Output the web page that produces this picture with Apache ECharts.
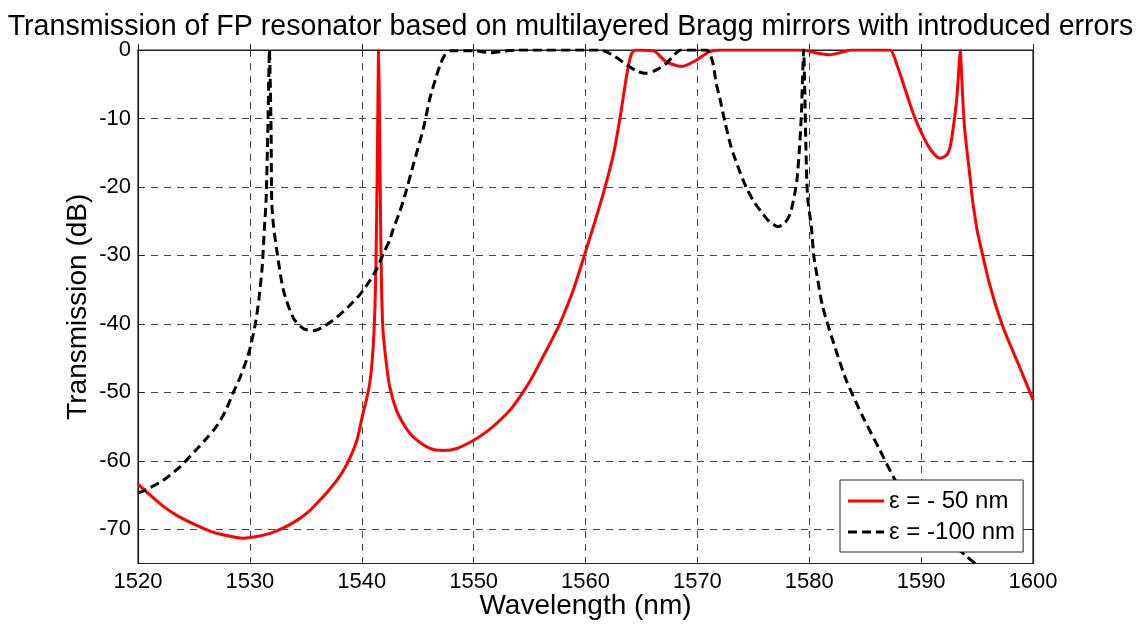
<!DOCTYPE html>
<html>
<head>
<meta charset="utf-8">
<title>FP resonator transmission</title>
<script src="https://cdn.jsdelivr.net/npm/echarts@6/dist/echarts.min.js"></script>
<style>
  html, body { margin: 0; padding: 0; background: #fff; }
  #chart { width: 1141px; height: 624px; }
</style>
</head>
<body>
<div id="chart"></div>
<script>
// Transmission spectra (dB) of a Fabry-Perot resonator built from Bragg mirrors
const titleText = 'Transmission of FP resonator based on multilayered Bragg mirrors with introduced errors';
const xName = 'Wavelength (nm)';
const yName = 'Transmission (dB)';
const seriesNames = ['\u03b5 = - 50 nm', '\u03b5 = -100 nm'];
const yTicks = [-70, -60, -50, -40, -30, -20, -10, 0];

// epsilon = -50 nm
const wl50 = [1520.0, 1521.0, 1522.3, 1523.5, 1525.2, 1526.5, 1527.6, 1529.4, 1530.5, 1531.8,
  1533.0, 1534.2, 1535.2, 1536.0, 1537.0, 1537.8, 1538.5, 1539.0, 1539.6, 1540.1,
  1540.4, 1540.7, 1540.9, 1541.1, 1541.25, 1541.38, 1541.46, 1541.5, 1541.55, 1541.65,
  1541.75, 1541.9, 1542.2, 1542.5, 1543.1, 1543.8, 1544.6, 1546.1, 1547.3, 1548.5,
  1550.0, 1551.2, 1552.4, 1553.4, 1554.4, 1555.3, 1556.2, 1557.0, 1557.7, 1558.9,
  1559.9, 1560.7, 1561.6, 1562.5, 1563.1, 1563.7, 1564.1, 1564.5, 1566.0, 1566.3,
  1567.2, 1568.6, 1569.9, 1571.0, 1572.0, 1579.5, 1580.5, 1581.8, 1583.0, 1583.8,
  1587.2, 1587.8, 1588.4, 1589.3, 1590.2, 1591.0, 1591.7, 1592.3, 1592.6, 1592.9,
  1593.2, 1593.4, 1593.5, 1593.6, 1593.75, 1593.9, 1594.4, 1594.6, 1595.0, 1595.2,
  1596.1, 1597.3, 1598.8, 1600.0];
const db50 = [-63.4, -64.9, -66.7, -68.0, -69.4, -70.3, -70.8, -71.3, -71.1, -70.6,
  -69.8, -68.7, -67.5, -66.2, -64.4, -62.8, -61.0, -59.4, -56.8, -53.1,
  -51.2, -48.8, -46.0, -41.0, -33.0, -18.0, -5.0, 0.0, -5.0, -20.0,
  -33.0, -41.0, -45.8, -49.2, -52.6, -54.8, -56.5, -58.2, -58.5, -58.2,
  -57.0, -55.7, -54.0, -52.3, -50.0, -47.6, -44.8, -42.3, -40.0, -35.1,
  -30.0, -25.8, -20.9, -15.2, -9.8, -3.5, -0.6, 0.0, -0.1, -0.3,
  -1.7, -2.4, -1.5, -0.3, 0.0, 0.0, -0.4, -0.7, -0.3, 0.0,
  0.0, -2.0, -4.9, -9.3, -12.7, -14.9, -15.8, -15.3, -14.1, -11.0,
  -6.8, -2.0, 0.0, -3.0, -8.0, -11.7, -19.0, -22.0, -26.3, -27.8,
  -34.1, -40.4, -46.3, -51.1];

// epsilon = -100 nm
const wl100 = [1520.0, 1521.0, 1522.3, 1523.8, 1525.2, 1526.2, 1527.0, 1527.8, 1528.5, 1529.1,
  1529.7, 1530.1, 1530.5, 1530.8, 1531.1, 1531.3, 1531.45, 1531.6, 1531.7, 1531.75,
  1531.8, 1531.9, 1531.95, 1532.1, 1532.4, 1533.0, 1533.9, 1534.8, 1535.7, 1536.7,
  1537.8, 1538.8, 1539.8, 1540.6, 1541.3, 1542.0, 1542.5, 1542.8, 1543.4, 1543.9,
  1544.6, 1545.5, 1546.1, 1546.6, 1547.0, 1547.4, 1548.0, 1550.0, 1551.5, 1552.5,
  1554.0, 1561.3, 1562.5, 1563.7, 1564.5, 1565.3, 1566.2, 1567.2, 1568.0, 1568.5,
  1570.8, 1571.1, 1571.4, 1571.7, 1572.0, 1572.3, 1572.9, 1573.2, 1573.8, 1574.4,
  1575.0, 1575.6, 1576.4, 1577.2, 1577.8, 1578.3, 1578.7, 1578.9, 1579.1, 1579.3,
  1579.4, 1579.5, 1579.6, 1579.7, 1579.85, 1580.2, 1580.4, 1580.7, 1581.2, 1582.1,
  1583.3, 1584.8, 1586.3, 1587.5, 1588.7, 1590.2, 1592.3, 1594.1, 1595.0, 1596.5,
  1600.0];
const db100 = [-64.7, -64.0, -62.8, -60.8, -58.4, -56.6, -55.0, -52.8, -50.1, -47.9,
  -45.3, -43.0, -39.9, -36.5, -31.7, -26.0, -21.9, -12.0, -3.0, 0.0,
  -3.0, -12.0, -21.9, -25.5, -29.2, -35.1, -39.2, -40.7, -41.0, -40.3,
  -39.0, -37.5, -35.8, -34.0, -32.1, -29.5, -27.8, -26.2, -23.6, -21.0,
  -16.8, -11.5, -7.0, -4.2, -2.2, -0.8, -0.1, -0.1, -0.4, -0.2,
  0.0, 0.0, -0.8, -2.2, -3.0, -3.4, -3.0, -2.0, -0.6, 0.0,
  0.0, -0.5, -2.0, -5.0, -7.0, -9.3, -13.5, -15.1, -17.8, -20.2,
  -22.0, -23.4, -25.0, -25.8, -25.3, -23.9, -21.0, -19.0, -15.0, -9.3,
  -4.0, 0.0, -6.0, -14.0, -21.4, -26.0, -30.0, -33.0, -37.5, -42.4,
  -48.2, -53.6, -58.4, -62.3, -65.7, -68.6, -71.5, -74.0, -75.2, -77.0,
  -80.0];

const toPairs = (xs, ys) => xs.map((x, i) => [x, ys[i]]);

const FONT = "'Liberation Sans', Arial, Helvetica, sans-serif";
const gridLine = { show: true, lineStyle: { color: '#444', width: 1, type: [7, 6] } };
const axisLine = { show: true, lineStyle: { color: '#222', width: 1.2 } };
const tick = { show: true, inside: true, length: 6, lineStyle: { color: '#222' } };
const yTick = Object.assign({}, tick, { customValues: yTicks });

// legend keys: a solid bar and a dashed bar
const solidKey = 'path://M0,0H36V3H0Z';
const dashedKey = 'path://M0,0H9V3H0Z M14,0H23V3H14Z M28,0H36V3H28Z';

const chart = echarts.init(document.getElementById('chart'), null, { renderer: 'canvas' });

chart.setOption({
  animation: false,
  backgroundColor: '#fff',
  textStyle: { fontFamily: FONT },
  title: {
    text: titleText,
    left: 'center',
    top: 8,
    textStyle: { fontFamily: FONT, fontSize: 28.6, fontWeight: 'normal', color: '#000' }
  },
  grid: {
    left: 138, right: 108, top: 50, bottom: 60.5,
    containLabel: false,
    outerBoundsMode: 'none',
    show: true, borderColor: '#222', borderWidth: 1.2, backgroundColor: '#fff'
  },
  legend: {
    orient: 'vertical',
    left: 840, top: 480,
    z: 20,
    padding: [9, 8, 8, 8],
    itemGap: 7,
    itemWidth: 36, itemHeight: 3,
    backgroundColor: '#fff',
    borderColor: '#222', borderWidth: 1,
    textStyle: { fontFamily: FONT, fontSize: 24, color: '#000' },
    data: [
      { name: seriesNames[0], icon: solidKey },
      { name: seriesNames[1], icon: dashedKey }
    ]
  },
  xAxis: [{
    type: 'value', min: 1520, max: 1600, interval: 10,
    name: xName, nameLocation: 'middle', nameGap: 29, nameMoveOverlap: false,
    nameTextStyle: { fontFamily: FONT, fontSize: 28, color: '#000' },
    axisLine: axisLine, axisTick: tick, splitLine: gridLine,
    axisLabel: { margin: 7, fontFamily: FONT, fontSize: 22, color: '#000', formatter: v => String(v) }
  }, {
    type: 'value', min: 1520, max: 1600, interval: 10, position: 'top',
    axisLine: axisLine, axisTick: tick, axisLabel: { show: false }, splitLine: { show: false }
  }],
  yAxis: [{
    type: 'value', min: -75, max: 0,
    name: yName, nameLocation: 'middle', nameGap: 46, nameRotate: 90, nameMoveOverlap: false,
    nameTextStyle: { fontFamily: FONT, fontSize: 28, color: '#000' },
    axisLine: axisLine, axisTick: yTick, splitLine: gridLine,
    axisLabel: {
      margin: 7, fontFamily: FONT, fontSize: 22, color: '#000',
      customValues: yTicks, formatter: v => String(v)
    }
  }, {
    type: 'value', min: -75, max: 0, position: 'right',
    axisLine: axisLine, axisTick: yTick, axisLabel: { show: false }, splitLine: { show: false }
  }],
  series: [{
    name: seriesNames[0],
    type: 'line',
    data: toPairs(wl50, db50),
    symbol: 'none',
    smooth: 0.25,
    clip: true,
    lineStyle: { color: '#ff0000', width: 3 },
    itemStyle: { color: '#ff0000' },
    z: 2
  }, {
    name: seriesNames[1],
    type: 'line',
    data: toPairs(wl100, db100),
    symbol: 'none',
    smooth: 0.25,
    clip: true,
    lineStyle: { color: '#000', width: 3, type: [9, 5] },
    itemStyle: { color: '#000' },
    z: 3
  }]
});
</script>
</body>
</html>
